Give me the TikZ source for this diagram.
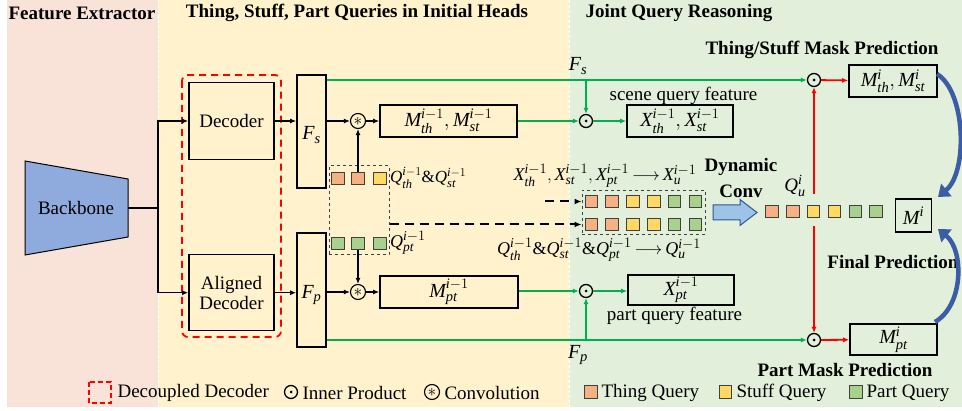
\documentclass[tikz,border=0pt]{standalone}
\usepackage{amsmath}
\usepackage{fontspec}
\setmainfont{Liberation Serif}
\usetikzlibrary{arrows.meta}
\DeclareMathSizes{19}{19}{14}{11}
\DeclareMathSizes{20}{20}{14.5}{11}
\DeclareMathSizes{18}{18}{13.5}{10.5}
\DeclareMathSizes{17}{17}{12.5}{10}
\newcommand{\itx}[1]{\text{\itshape #1}}
\definecolor{bgpink}{HTML}{F9E3D8}
\definecolor{bgyellow}{HTML}{FFF2CC}
\definecolor{bggreen}{HTML}{E2EFDA}
\definecolor{qorange}{HTML}{F4B183}
\definecolor{qyellow}{HTML}{FFD966}
\definecolor{qgreen}{HTML}{A9D18E}
\definecolor{bbblue}{HTML}{8FAADC}
\definecolor{dynblue}{HTML}{9DC3E6}
\definecolor{darkblue}{HTML}{2F5597}
\definecolor{curveblue}{HTML}{3A5DA6}
\definecolor{lgreen}{HTML}{00B050}
\begin{document}
\begin{tikzpicture}[x=1pt,y=-1pt,
  font=\fontsize{19}{22}\selectfont,
  tip/.style={-{Latex[length=6pt,width=5pt]}},
  box/.style={draw,line width=1.6pt,inner sep=0pt,align=center},
  mbox/.style={box,font=\fontsize{20}{22}\selectfont},
  qsq/.style={draw=black!75,line width=1pt,minimum size=12.5pt,inner sep=0pt},
  odot/.style={circle,draw,line width=1.3pt,minimum size=13pt,inner sep=0pt,
    path picture={\fill (path picture bounding box.center) circle (1.5pt);}},
  conv/.style={circle,draw,line width=1.1pt,minimum size=15pt,inner sep=0pt,
    font=\fontsize{19}{19}\selectfont},
  blk/.style={line width=1.5pt,tip},
  garrow/.style={draw=lgreen,line width=1.8pt,-{Latex[length=6pt,width=5pt]}},
  rarrow/.style={draw=red,line width=1.8pt,-{Latex[length=6pt,width=5pt]}},
  dasharrow/.style={line width=2pt,dash pattern=on 9pt off 6pt,-{Latex[length=7pt,width=6pt]}},
  title/.style={font=\fontsize{19}{22}\selectfont\bfseries},
  mlab/.style={font=\fontsize{18}{20}\selectfont,inner sep=1pt},
  curve/.style={draw=curveblue,line width=4.5pt,-{Triangle[length=11pt,width=16pt]}}
]
\useasboundingbox (0,0) rectangle (962,411);

% three stage backgrounds
\fill[bgpink] (7,0) rectangle (158,407);
\fill[bgyellow] (158,0) rectangle (569,407);
\fill[bggreen] (569,0) rectangle (962,407);
\draw[white,line width=1pt,dash pattern=on 3pt off 2pt] (158,0) -- (158,407);
\draw[white,line width=1pt,dash pattern=on 3pt off 2pt] (569,0) -- (569,407);

% stage titles
\node[title] (t1) at (82,13) {Feature Extractor};
\node[title] (t2) at (357,13) {Thing, Stuff, Part Queries in Initial Heads};
\node[title,anchor=west] (t3) at (582,13) {Joint Query Reasoning};
\node[title] (t4) at (822,50) {Thing/Stuff Mask Prediction};
\node[title] (t5) at (893,262) {Final Prediction};
\node[title] (t6) at (845,370) {Part Mask Prediction};

% backbone
\draw[fill=bbblue,line width=1pt] (25,161) -- (128,179) -- (128,237) -- (25,255) -- cycle;
\node (bb) at (76,208) {Backbone};
\coordinate (bbout) at (128,208);
\coordinate (split) at (158,208);

% decoders
\node[box,minimum width=85pt,minimum height=77pt] (dec) at (231.5,121) {Decoder};
\node[box,minimum width=85pt,minimum height=76pt] (adec) at (231.5,292.7) {Aligned\\[-2pt]Decoder};
\draw[red,line width=1.8pt,dash pattern=on 7pt off 5pt,rounded corners=6pt] (182,75) rectangle (281,337);

% features
\node[box,minimum width=29pt,minimum height=113pt] (fs) at (311.5,131.5) {};
\node[box,minimum width=29pt,minimum height=114pt] (fp) at (311.5,290) {};
\node[font=\fontsize{20}{22}\selectfont] (fslab) at (311.5,135) {$\itx{F}_{\itx{s}}$};
\node[font=\fontsize{20}{22}\selectfont] (fplab) at (311.5,295) {$\itx{F}_{\itx{p}}$};

\draw[line width=1.5pt] (bbout) -- (split);
\draw[blk] (split) |- (dec.west);
\draw[blk] (split) |- (adec.west);
\draw[blk] (dec.east) -- (dec.east -| fs.west);
\draw[blk] (adec.east) -- (adec.east -| fp.west);

% initial masks
\node[conv] (cs) at (358,121) {$\ast$};
\node[conv] (cp) at (358,292) {$\ast$};
\node[mbox,minimum width=137pt,minimum height=32pt] (mth) at (448.5,121) {$\itx{M}_{\itx{th}}^{\itx{i}-1}, \itx{M}_{\itx{st}}^{\itx{i}-1}$};
\node[mbox,minimum width=138pt,minimum height=32pt] (mpt) at (449,292) {$\itx{M}_{\itx{pt}}^{\itx{i}-1}$};
\draw[blk] (cs -| fs.east) -- (cs);
\draw[blk] (cs) -- (mth);
\draw[blk] (cp -| fp.east) -- (cp);
\draw[blk] (cp) -- (mpt);

% initial queries
\node[qsq,fill=qorange] (q1) at (338,178.5) {};
\node[qsq,fill=qorange] (q2) at (358,178.5) {};
\node[qsq,fill=qyellow] (q3) at (380,178.5) {};
\node[qsq,fill=qgreen] (p1) at (338,243.5) {};
\node[qsq,fill=qgreen] (p2) at (358,243.5) {};
\node[qsq,fill=qgreen] (p3) at (380,243.5) {};
\node[draw=black!75,line width=1pt,dashed,minimum width=60pt,minimum height=89pt] (qbox) at (359,210.5) {};
\node[mlab,font=\fontsize{17}{20}\selectfont,anchor=west] (qlab) at (389,178) {$\itx{Q}_{\itx{th}}^{\itx{i}-1}\&\itx{Q}_{\itx{st}}^{\itx{i}-1}$};
\node[mlab,anchor=west] (plab) at (389,243) {$\itx{Q}_{\itx{pt}}^{\itx{i}-1}$};
\draw[blk] (q2.north) -- (cs.south);
\draw[blk] (p2.south) -- (cp.north);

% unified queries
\foreach \i/\x/\c in {1/591.5/qorange,2/612/qorange,3/633/qyellow,4/654/qyellow,5/674.5/qgreen,6/695.5/qgreen}{
  \node[qsq,fill=\c] (ua\i) at (\x,201.5) {};
  \node[qsq,fill=\c] (ub\i) at (\x,224.5) {};
}
\node[draw=black!75,line width=1pt,dashed,minimum width=123pt,minimum height=44pt] (ubox) at (643.5,212.5) {};
\coordinate (dstart) at (545,201.5);
\draw[dasharrow] (dstart) -- (ubox.west |- ua1);
\draw[dasharrow] (qbox.east |- ub1) -- (ubox.west |- ub1);
\node[mlab] (xulab) at (605,176) {$\itx{X}_{\itx{th}}^{\itx{i}-1},\itx{X}_{\itx{st}}^{\itx{i}-1},\itx{X}_{\itx{pt}}^{\itx{i}-1}\,{\longrightarrow}\,\itx{X}_{\itx{u}}^{\itx{i}-1}$};
\node[mlab] (qulab) at (599,250) {$\itx{Q}_{\itx{th}}^{\itx{i}-1}\&\itx{Q}_{\itx{st}}^{\itx{i}-1}\&\itx{Q}_{\itx{pt}}^{\itx{i}-1}\,{\longrightarrow}\,\itx{Q}_{\itx{u}}^{\itx{i}-1}$};

% dynamic convolution
\draw[fill=dynblue,draw=darkblue,line width=1pt] (713,205) -- (740,205) -- (740,199.5) -- (757,212.5) -- (740,225.5) -- (740,220) -- (713,220) -- cycle;
\node[title] (dyn1) at (741,167) {Dynamic};
\node[title] (dyn2) at (741,191) {Conv};
\node[mlab,font=\fontsize{19}{22}\selectfont] (qui) at (795,186) {$\itx{Q}_{\itx{u}}^{\itx{i}}$};
\foreach \i/\x/\c in {1/772/qorange,2/793/qorange,3/813.5/qyellow,4/834.5/qyellow,5/855.5/qgreen,6/876/qgreen}{
  \node[qsq,fill=\c] (uq\i) at (\x,211.5) {};
}
\node[mbox,minimum width=36pt,minimum height=33pt] (mi) at (913.5,215.5) {$\itx{M}^{\itx{i}}$};

% joint reasoning branches
\node[odot] (osc) at (586,121) {};
\node[odot] (opc) at (586,291) {};
\node[odot] (ots) at (814,80) {};
\node[odot] (opt) at (814,340) {};
\node[mbox,minimum width=106pt,minimum height=32pt] (xth) at (680,121) {$\itx{X}_{\itx{th}}^{\itx{i}-1}, \itx{X}_{\itx{st}}^{\itx{i}-1}$};
\node[mbox,minimum width=106pt,minimum height=30pt] (xpt) at (681,290) {$\itx{X}_{\itx{pt}}^{\itx{i}-1}$};
\node (scl) at (683.5,96) {scene query feature};
\node (pcl) at (674.5,316) {part query feature};
\node[mbox,minimum width=88pt,minimum height=32pt] (mthi) at (893,81) {$\itx{M}_{\itx{th}}^{\itx{i}}, \itx{M}_{\itx{st}}^{\itx{i}}$};
\node[mbox,minimum width=87pt,minimum height=31pt] (mpti) at (893.5,339.5) {$\itx{M}_{\itx{pt}}^{\itx{i}}$};

\draw[garrow] (ots -| fs.east) -- (ots);
\draw[garrow] (opt -| fp.east) -- (opt);
\node[font=\fontsize{20}{22}\selectfont] (fsl) at (578,66) {$\itx{F}_{\itx{s}}$};
\node[font=\fontsize{20}{22}\selectfont] (fpl) at (578,355) {$\itx{F}_{\itx{p}}$};
\draw[garrow] (osc |- ots) -- (osc);
\draw[garrow] (opc |- opt) -- (opc);
\draw[garrow] (mth) -- (osc);
\draw[garrow] (osc) -- (xth);
\draw[garrow] (mpt.east |- opc) -- (opc);
\draw[garrow] (opc) -- (xpt.west |- opc);

\coordinate (rtop) at (814,194);
\coordinate (rbot) at (814,226);
\draw[rarrow] (rtop) -- (ots);
\draw[rarrow] (rbot) -- (opt);
\draw[rarrow] (ots) -- (mthi);
\draw[rarrow] (opt) -- (mpti);

% final prediction curves
\coordinate (c1s) at (937,74);
\coordinate (c1e) at (938,197);
\coordinate (c2s) at (935,322);
\coordinate (c2e) at (938,229);
\draw[curve] (c1s) .. controls (966,92) and (968,172) .. (c1e);
\draw[curve] (c2s) .. controls (964,305) and (964,250) .. (c2e);

% legend
\draw[red,line width=1.5pt,dash pattern=on 5pt off 3pt] (89,382) rectangle (111,403);
\node[anchor=west] (l1) at (114,393) {Decoupled Decoder};
\node[odot] (lo) at (291,392) {};
\node[anchor=west] (l2) at (299,393) {Inner Product};
\node[conv] (lc) at (432,392) {$\ast$};
\node[anchor=west] (l3) at (441,393) {Convolution};
\node[qsq,fill=qorange] (ls1) at (591,392) {};
\node[anchor=west] (l4) at (598,393) {Thing Query};
\node[qsq,fill=qyellow] (ls2) at (725.5,392) {};
\node[anchor=west] (l5) at (733,393) {Stuff Query};
\node[qsq,fill=qgreen] (ls3) at (856,392) {};
\node[anchor=west] (l6) at (863,393) {Part Query};
\end{tikzpicture}
\end{document}
